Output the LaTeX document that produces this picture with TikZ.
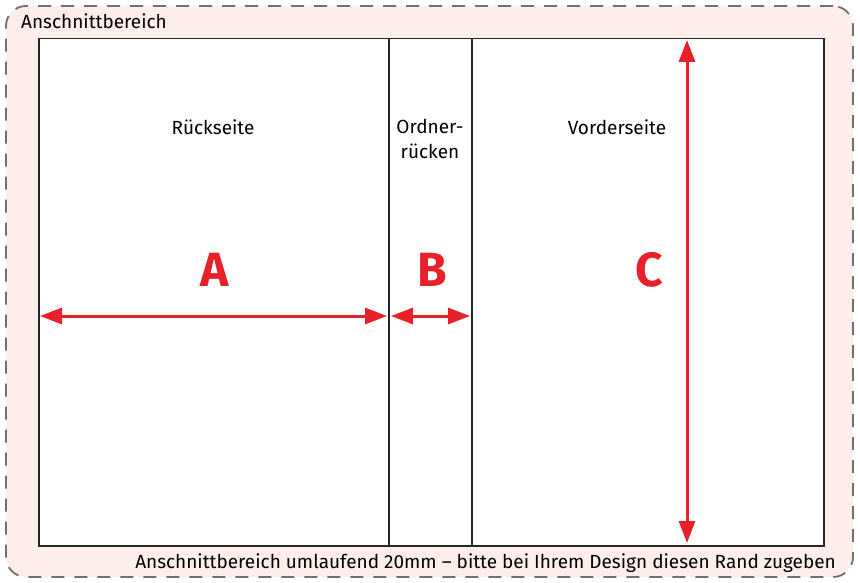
\documentclass[tikz,border=0pt]{standalone}
\usepackage{fontspec}
\setmainfont{Fira Sans}
\usetikzlibrary{arrows.meta}
\definecolor{bleed}{HTML}{FDEEEB}
\definecolor{dashgray}{HTML}{707070}
\definecolor{redarrow}{HTML}{E8202A}
\begin{document}
\begin{tikzpicture}[x=1pt,y=-1pt,
  lbl/.style={font=\fontsize{19}{22}\selectfont, text=black, inner sep=0pt},
  letter/.style={font=\fontsize{48}{50}\selectfont\bfseries, text=redarrow, inner sep=0pt},
  dim/.style={draw=redarrow, line width=3pt, {Triangle[length=22pt,width=16pt]}-{Triangle[length=22pt,width=16pt]}, shorten <=0pt, shorten >=0pt}]
\useasboundingbox (0,0) rectangle (860,583);
\node[draw=dashgray, fill=bleed, line width=1.8pt, dash pattern=on 13pt off 10pt, rounded corners=20pt, minimum width=847pt, minimum height=571pt, inner sep=0pt] (bleedarea) at (429.5,291.5) {};
\node[draw=black!85, fill=white, line width=1.5pt, minimum width=785pt, minimum height=507pt, inner sep=0pt, anchor=north west] (page) at (38,38) {};
\coordinate (s1t) at (389,38); \coordinate (s1b) at (389,545);
\coordinate (s2t) at (472,38); \coordinate (s2b) at (472,545);
\draw[black!85, line width=1.5pt] (s1t) -- (s1b);
\draw[black!85, line width=1.5pt] (s2t) -- (s2b);
\node[lbl, anchor=west] (t1) at (21,21) {Anschnittbereich};
\node[lbl, anchor=east] (t2) at (836,563) {Anschnittbereich umlaufend 20mm – bitte bei Ihrem Design diesen Rand zugeben};
\node[lbl] (rs) at (213,127) {Rückseite};
\node[lbl, align=center, font=\fontsize{19}{25}\selectfont] (or) at (430,139) {Ordner-\\rücken};
\node[lbl] (vs) at (617,127) {Vorderseite};
\node[letter] (A) at (215,270) {A};
\node[letter] (B) at (432,270) {B};
\node[letter] (C) at (649,270) {C};
\coordinate (a1) at (40,316); \coordinate (a2) at (387,316);
\coordinate (b1) at (391,316); \coordinate (b2) at (470,316);
\coordinate (c1) at (687,40); \coordinate (c2) at (687,543);
\draw[dim] (a1) -- (a2);
\draw[dim] (b1) -- (b2);
\draw[dim] (c1) -- (c2);
\end{tikzpicture}
\end{document}
